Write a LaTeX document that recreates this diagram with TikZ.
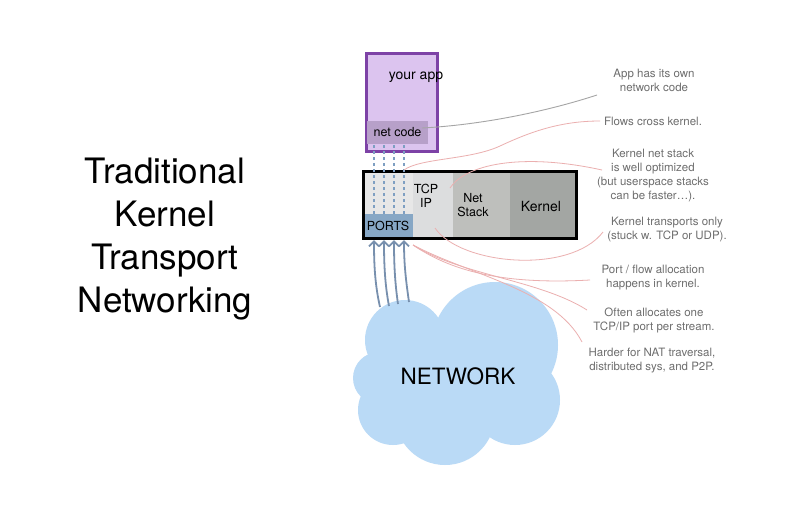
\documentclass[tikz,border=0pt]{standalone}
\usepackage{fontspec}
\setmainfont{TeX Gyre Heros}
\usetikzlibrary{arrows.meta}
\definecolor{appfill}{HTML}{DCC4EF}
\definecolor{appline}{HTML}{7D42A6}
\definecolor{ncfill}{HTML}{B7A0C9}
\definecolor{klight}{HTML}{E7E7E7}
\definecolor{ktcp}{HTML}{DCDDDE}
\definecolor{knet}{HTML}{BEBFBC}
\definecolor{kker}{HTML}{A3A6A3}
\definecolor{portfill}{HTML}{87A7C5}
\definecolor{dashcol}{HTML}{7E9FC2}
\definecolor{arrcol}{HTML}{7890AE}
\definecolor{cloudcol}{HTML}{BADAF6}
\definecolor{notecol}{HTML}{6E6E6E}
\definecolor{pinkcol}{HTML}{EBAFAF}
\definecolor{graylead}{HTML}{A5A5A5}
\begin{document}
\begin{tikzpicture}[x=1pt,y=-1pt,
  sec/.style={inner sep=0pt,outer sep=0pt,anchor=north west,draw=none},
  boxtext/.style={font=\fontsize{12.5}{14}\selectfont,align=center,text=black},
  note/.style={font=\fontsize{11.5}{14}\selectfont,align=center,text=notecol},
  flowdash/.style={draw=dashcol,line width=1.8pt,dash pattern=on 3pt off 3pt},
  flowarrow/.style={draw=arrcol,line width=1.8pt,-{Straight Barb[length=5pt,width=10pt]}},
  pinklead/.style={draw=pinkcol,line width=0.8pt},
  graylink/.style={draw=graylead,line width=0.9pt}]
\useasboundingbox (0,0) rectangle (790,515);
\fill[white] (0,0) rectangle (790,515);

% title
\node[font=\fontsize{35}{43}\selectfont,align=center] (title) at (165,239)
  {Traditional\\Kernel\\Transport\\Networking};

% cloud
\begin{scope}[fill=cloudcol]
  \fill (405,340) circle (40);
  \fill (495,345) circle (63);
  \fill (379,378) circle (26);
  \fill (393,410) circle (35);
  \fill (445,415) circle (50);
  \fill (515,400) circle (45);
  \fill (460,380) circle (62);
\end{scope}
\node[font=\fontsize{22.5}{26}\selectfont] (net) at (458,376) {NETWORK};

% app box
\node[draw=appline,fill=appfill,line width=3pt,minimum width=71pt,minimum height=98pt,inner sep=0pt] (app) at (401.5,102) {};
\node[font=\fontsize{14}{16}\selectfont] (apptext) at (416,77) {your app};
\node[sec,fill=ncfill,minimum width=61pt,minimum height=23pt] (netcode) at (367,121) {};
\node[boxtext] at (netcode.center) {net code};

% kernel box sections
\node[sec,fill=klight,minimum width=50pt,minimum height=68pt] (left) at (363,171) {};
\node[sec,fill=ktcp,minimum width=40pt,minimum height=68pt] (tcp) at (413,171) {};
\node[sec,fill=knet,minimum width=57pt,minimum height=68pt] (netstack) at (453,171) {};
\node[sec,fill=kker,minimum width=67pt,minimum height=68pt] (kernel) at (510,171) {};
\node[sec,fill=portfill,minimum width=50pt,minimum height=25pt] (ports) at (363,214) {};
\node[draw=black,line width=3pt,minimum width=213pt,minimum height=67pt,inner sep=0pt] (kbox) at (470,205) {};
\node[boxtext] at (426,196) {TCP\\IP};
\node[boxtext] at (473,205) {Net\\Stack};
\node[font=\fontsize{14}{16}\selectfont] at (541,206) {Kernel};
\node[boxtext] at (388,226) {PORTS};

% dashed flows
\foreach \x in {374,384,394,404}{
  \coordinate (dt\x) at (\x,145);
  \coordinate (db\x) at (\x,214);
  \draw[flowdash] (dt\x) -- (db\x);
}

% arrows from network
\coordinate (c1) at (380,307); \coordinate (t1) at (374,240);
\coordinate (c2) at (389,306); \coordinate (t2) at (384,240);
\coordinate (c3) at (398,304); \coordinate (t3) at (394,240);
\coordinate (c4) at (409,302); \coordinate (t4) at (404,240);
\draw[flowarrow] (c1) .. controls (375,285) and (374,265) .. (t1);
\draw[flowarrow] (c2) .. controls (385,285) and (384,265) .. (t2);
\draw[flowarrow] (c3) .. controls (395,283) and (394,265) .. (t3);
\draw[flowarrow] (c4) .. controls (406,281) and (404,265) .. (t4);

% notes
\node[note] (n1) at (654,80) {App has its own\\network code};
\node[note] (n2) at (653,121) {Flows cross kernel.};
\node[note] (n3) at (653,175.5) {Kernel net stack\\is well optimized\\(but userspace stacks\\can be faster\dots).};
\node[note] (n4) at (667,230) {Kernel transports only\\(stuck w. TCP or UDP).};
\node[note] (n5) at (653,278) {Port / flow allocation\\happens in kernel.};
\node[note] (n6) at (654,320) {Often allocates one\\TCP/IP port per stream.};
\node[note] (n7) at (652,361) {Harder for NAT traversal,\\distributed sys, and P2P.};

% leaders
\coordinate (g0) at (422,128);
\coordinate (g1) at (597,95);
\draw[graylink] (g0) .. controls (480,125) and (545,112) .. (g1);

\coordinate (l1a) at (404,170); \coordinate (l1b) at (600,121);
\draw[pinklead] (l1a) .. controls (420,158) and (470,160) .. (500,146) .. controls (530,132) and (560,121) .. (l1b);
\coordinate (l2a) at (450,188); \coordinate (l2b) at (602,170);
\draw[pinklead] (l2a) .. controls (465,165) and (520,152) .. (l2b);
\coordinate (l3a) at (435,228); \coordinate (l3b) at (603,232);
\draw[pinklead] (l3a) .. controls (460,265) and (570,275) .. (l3b);
\coordinate (pa) at (413,245);
\coordinate (l4b) at (590,280);
\coordinate (l5b) at (587,310);
\coordinate (l6b) at (582,342);
\draw[pinklead] (pa) .. controls (450,270) and (500,285) .. (l4b);
\draw[pinklead] (pa) .. controls (460,275) and (540,280) .. (l5b);
\draw[pinklead] (pa) .. controls (470,275) and (555,290) .. (l6b);
\end{tikzpicture}
\end{document}
